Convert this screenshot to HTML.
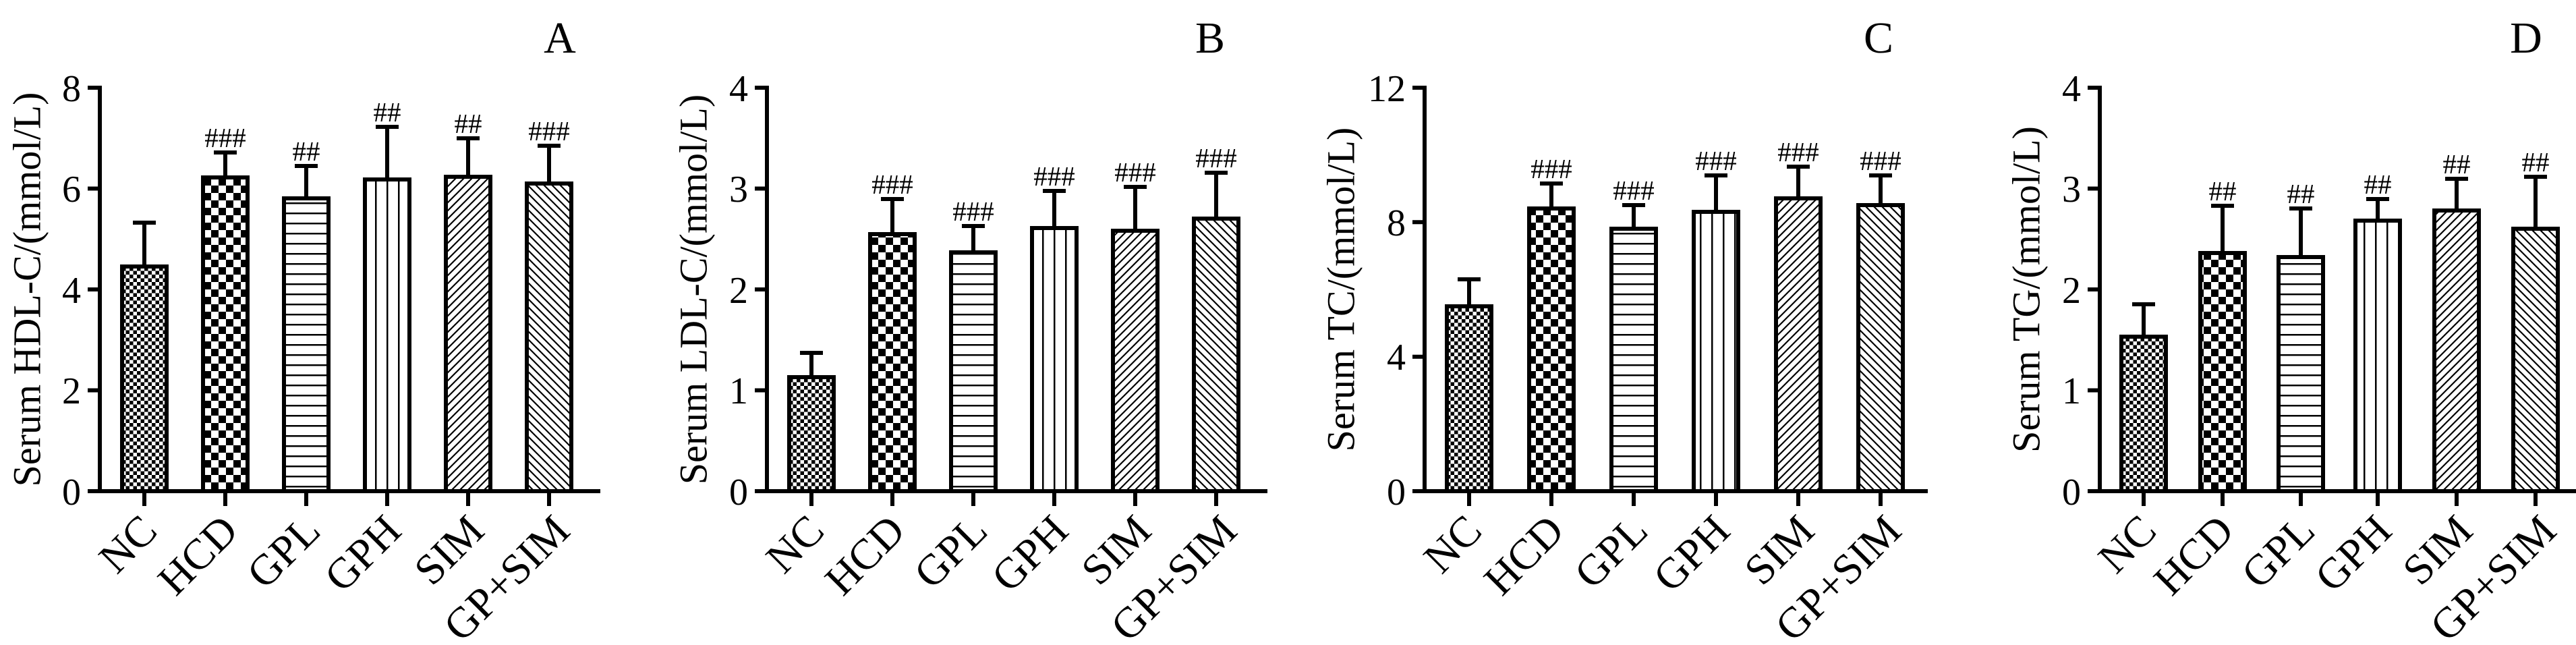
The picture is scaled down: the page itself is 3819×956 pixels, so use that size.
<!DOCTYPE html>
<html><head><meta charset="utf-8"><style>html,body{margin:0;padding:0;background:#fff}svg{display:block}text{font-family:"Liberation Serif",serif;fill:#000}</style></head>
<body>
<svg width="3819" height="956" viewBox="0 0 3819 956" xmlns="http://www.w3.org/2000/svg">
<defs>
<pattern id="fc" patternUnits="userSpaceOnUse" width="11" height="11"><rect width="11" height="11" fill="#fff"/><rect width="5.5" height="5.5" fill="#000"/><rect x="5.5" y="5.5" width="5.5" height="5.5" fill="#000"/></pattern>
<pattern id="cc" patternUnits="userSpaceOnUse" width="22" height="22"><rect width="22" height="22" fill="#fff"/><rect width="11" height="11" fill="#000"/><rect x="11" y="11" width="11" height="11" fill="#000"/></pattern>
<pattern id="hl" patternUnits="userSpaceOnUse" width="15" height="15"><rect width="15" height="15" fill="#fff"/><rect y="0" width="15" height="2.5" fill="#000"/></pattern>
<pattern id="vl" patternUnits="userSpaceOnUse" width="17" height="17"><rect width="17" height="17" fill="#fff"/><rect x="0" width="2.5" height="17" fill="#000"/></pattern>
<pattern id="d1" patternUnits="userSpaceOnUse" width="12" height="12"><rect width="12" height="12" fill="#fff"/><path d="M-3,3 L3,-3 M0,12 L12,0 M9,15 L15,9" stroke="#000" stroke-width="2.2"/></pattern>
<pattern id="d2" patternUnits="userSpaceOnUse" width="12" height="12"><rect width="12" height="12" fill="#fff"/><path d="M-3,9 L3,15 M0,0 L12,12 M9,-3 L15,3" stroke="#000" stroke-width="2.2"/></pattern>
</defs>

<!-- Panel A -->
<g transform="translate(148,0)" stroke-linecap="butt">
<g stroke="#000" stroke-width="6" fill="none">
<line x1="0" y1="127" x2="0" y2="731"/><line x1="-3" y1="728" x2="742" y2="728"/>
<line x1="-18" y1="130" x2="0" y2="130"/><line x1="-18" y1="279.5" x2="0" y2="279.5"/><line x1="-18" y1="429" x2="0" y2="429"/><line x1="-18" y1="578.5" x2="0" y2="578.5"/><line x1="-18" y1="728" x2="0" y2="728"/>
<line x1="66" y1="728" x2="66" y2="750"/><line x1="186" y1="728" x2="186" y2="750"/><line x1="306" y1="728" x2="306" y2="750"/><line x1="426" y1="728" x2="426" y2="750"/><line x1="546" y1="728" x2="546" y2="750"/><line x1="666" y1="728" x2="666" y2="750"/>
<path d="M66,395 V330 M49,330 H83 M186,263 V226 M169,226 H203 M306,294 V246 M289,246 H323 M426,266 V188 M409,188 H443 M546,262 V205 M529,205 H563 M666,272 V216 M649,216 H683"/>
<rect x="33" y="395" width="66" height="333" fill="url(#fc)"/>
<rect x="153" y="263" width="66" height="465" fill="url(#cc)"/>
<rect x="273" y="294" width="66" height="434" fill="url(#hl)"/>
<rect x="393" y="266" width="66" height="462" fill="url(#vl)"/>
<rect x="513" y="262" width="66" height="466" fill="url(#d1)"/>
<rect x="633" y="272" width="66" height="456" fill="url(#d2)"/>
</g>
<g font-size="56" text-anchor="end"><text x="-28" y="150">8</text><text x="-28" y="299">6</text><text x="-28" y="449">4</text><text x="-28" y="598">2</text><text x="-28" y="748">0</text></g>
<text transform="translate(-108,429) rotate(-90)" font-size="58" text-anchor="middle" dominant-baseline="central">Serum HDL-C/(mmol/L)</text>
<text x="682" y="78" font-size="66" text-anchor="middle">A</text>
<g font-size="41" text-anchor="middle"><text x="186" y="218">###</text><text x="306" y="238">##</text><text x="426" y="180">##</text><text x="546" y="197">##</text><text x="666" y="208">###</text></g>
<g font-size="64" text-anchor="end"><text transform="translate(88,790) rotate(-45)">NC</text><text transform="translate(208,790) rotate(-45)">HCD</text><text transform="translate(330,790) rotate(-45)">GPL</text><text transform="translate(450,790) rotate(-45)">GPH</text><text transform="translate(573,790) rotate(-45)">SIM</text><text transform="translate(700,790) rotate(-45)">GP+SIM</text></g>
</g>

<!-- Panel B -->
<g transform="translate(1137,0)">
<g stroke="#000" stroke-width="6" fill="none">
<line x1="0" y1="127" x2="0" y2="731"/><line x1="-3" y1="728" x2="742" y2="728"/>
<line x1="-18" y1="130" x2="0" y2="130"/><line x1="-18" y1="279.5" x2="0" y2="279.5"/><line x1="-18" y1="429" x2="0" y2="429"/><line x1="-18" y1="578.5" x2="0" y2="578.5"/><line x1="-18" y1="728" x2="0" y2="728"/>
<line x1="66" y1="728" x2="66" y2="750"/><line x1="186" y1="728" x2="186" y2="750"/><line x1="306" y1="728" x2="306" y2="750"/><line x1="426" y1="728" x2="426" y2="750"/><line x1="546" y1="728" x2="546" y2="750"/><line x1="666" y1="728" x2="666" y2="750"/>
<path d="M66,559 V523 M49,523 H83 M186,347 V295 M169,295 H203 M306,374 V335 M289,335 H323 M426,338 V283 M409,283 H443 M546,342 V277 M529,277 H563 M666,324 V256 M649,256 H683"/>
<rect x="33" y="559" width="66" height="169" fill="url(#fc)"/>
<rect x="153" y="347" width="66" height="381" fill="url(#cc)"/>
<rect x="273" y="374" width="66" height="354" fill="url(#hl)"/>
<rect x="393" y="338" width="66" height="390" fill="url(#vl)"/>
<rect x="513" y="342" width="66" height="386" fill="url(#d1)"/>
<rect x="633" y="324" width="66" height="404" fill="url(#d2)"/>
</g>
<g font-size="56" text-anchor="end"><text x="-28" y="150">4</text><text x="-28" y="299">3</text><text x="-28" y="449">2</text><text x="-28" y="598">1</text><text x="-28" y="748">0</text></g>
<text transform="translate(-109,429) rotate(-90)" font-size="58" text-anchor="middle" dominant-baseline="central">Serum LDL-C/(mmol/L)</text>
<text x="657" y="78" font-size="66" text-anchor="middle">B</text>
<g font-size="41" text-anchor="middle"><text x="186" y="287">###</text><text x="306" y="327">###</text><text x="426" y="275">###</text><text x="546" y="269">###</text><text x="666" y="248">###</text></g>
<g font-size="64" text-anchor="end"><text transform="translate(88,790) rotate(-45)">NC</text><text transform="translate(208,790) rotate(-45)">HCD</text><text transform="translate(330,790) rotate(-45)">GPL</text><text transform="translate(450,790) rotate(-45)">GPH</text><text transform="translate(573,790) rotate(-45)">SIM</text><text transform="translate(700,790) rotate(-45)">GP+SIM</text></g>
</g>

<!-- Panel C -->
<g transform="translate(2112,0)">
<g stroke="#000" stroke-width="6" fill="none">
<line x1="0" y1="127" x2="0" y2="731"/><line x1="-3" y1="728" x2="746" y2="728"/>
<line x1="-18" y1="130" x2="0" y2="130"/><line x1="-18" y1="329.3" x2="0" y2="329.3"/><line x1="-18" y1="528.7" x2="0" y2="528.7"/><line x1="-18" y1="728" x2="0" y2="728"/>
<line x1="66" y1="728" x2="66" y2="750"/><line x1="188" y1="728" x2="188" y2="750"/><line x1="310" y1="728" x2="310" y2="750"/><line x1="432" y1="728" x2="432" y2="750"/><line x1="554" y1="728" x2="554" y2="750"/><line x1="676" y1="728" x2="676" y2="750"/>
<path d="M66,454 V414 M49,414 H83 M188,309 V272 M171,272 H205 M310,339 V304 M293,304 H327 M432,314 V260 M415,260 H449 M554,294 V247 M537,247 H571 M676,304 V260 M659,260 H693"/>
<rect x="33" y="454" width="66" height="274" fill="url(#fc)"/>
<rect x="155" y="309" width="66" height="419" fill="url(#cc)"/>
<rect x="277" y="339" width="66" height="389" fill="url(#hl)"/>
<rect x="399" y="314" width="66" height="414" fill="url(#vl)"/>
<rect x="521" y="294" width="66" height="434" fill="url(#d1)"/>
<rect x="643" y="304" width="66" height="424" fill="url(#d2)"/>
</g>
<g font-size="56" text-anchor="end"><text x="-28" y="150">12</text><text x="-28" y="349">8</text><text x="-28" y="548">4</text><text x="-28" y="748">0</text></g>
<text transform="translate(-124,429) rotate(-90)" font-size="58" text-anchor="middle" dominant-baseline="central">Serum TC/(mmol/L)</text>
<text x="673" y="78" font-size="66" text-anchor="middle">C</text>
<g font-size="41" text-anchor="middle"><text x="188" y="264">###</text><text x="310" y="296">###</text><text x="432" y="252">###</text><text x="554" y="239">###</text><text x="676" y="252">###</text></g>
<g font-size="64" text-anchor="end"><text transform="translate(88,790) rotate(-45)">NC</text><text transform="translate(210,790) rotate(-45)">HCD</text><text transform="translate(334,790) rotate(-45)">GPL</text><text transform="translate(456,790) rotate(-45)">GPH</text><text transform="translate(581,790) rotate(-45)">SIM</text><text transform="translate(710,790) rotate(-45)">GP+SIM</text></g>
</g>

<!-- Panel D -->
<g transform="translate(3113,0)">
<g stroke="#000" stroke-width="6" fill="none">
<line x1="0" y1="127" x2="0" y2="731"/><line x1="-3" y1="728" x2="720" y2="728"/>
<line x1="-18" y1="130" x2="0" y2="130"/><line x1="-18" y1="279.5" x2="0" y2="279.5"/><line x1="-18" y1="429" x2="0" y2="429"/><line x1="-18" y1="578.5" x2="0" y2="578.5"/><line x1="-18" y1="728" x2="0" y2="728"/>
<line x1="65" y1="728" x2="65" y2="750"/><line x1="182" y1="728" x2="182" y2="750"/><line x1="298" y1="728" x2="298" y2="750"/><line x1="412" y1="728" x2="412" y2="750"/><line x1="529" y1="728" x2="529" y2="750"/><line x1="646" y1="728" x2="646" y2="750"/>
<path d="M65,499 V451 M48,451 H82 M182,375 V305 M165,305 H199 M298,381 V309 M281,309 H315 M412,327 V295 M395,295 H429 M529,312 V265 M512,265 H546 M646,339 V262 M629,262 H663"/>
<rect x="32" y="499" width="66" height="229" fill="url(#fc)"/>
<rect x="149" y="375" width="66" height="353" fill="url(#cc)"/>
<rect x="265" y="381" width="66" height="347" fill="url(#hl)"/>
<rect x="379" y="327" width="66" height="401" fill="url(#vl)"/>
<rect x="496" y="312" width="66" height="416" fill="url(#d1)"/>
<rect x="613" y="339" width="66" height="389" fill="url(#d2)"/>
</g>
<g font-size="56" text-anchor="end"><text x="-28" y="150">4</text><text x="-28" y="299">3</text><text x="-28" y="449">2</text><text x="-28" y="598">1</text><text x="-28" y="748">0</text></g>
<text transform="translate(-109,429) rotate(-90)" font-size="58" text-anchor="middle" dominant-baseline="central">Serum TG/(mmol/L)</text>
<text x="632" y="78" font-size="66" text-anchor="middle">D</text>
<g font-size="41" text-anchor="middle"><text x="182" y="297">##</text><text x="298" y="301">##</text><text x="412" y="287">##</text><text x="529" y="257">##</text><text x="646" y="254">##</text></g>
<g font-size="64" text-anchor="end"><text transform="translate(87,790) rotate(-45)">NC</text><text transform="translate(202,790) rotate(-45)">HCD</text><text transform="translate(322,790) rotate(-45)">GPL</text><text transform="translate(436,790) rotate(-45)">GPH</text><text transform="translate(556,790) rotate(-45)">SIM</text><text transform="translate(680,790) rotate(-45)">GP+SIM</text></g>
</g>
</svg>
</body></html>
